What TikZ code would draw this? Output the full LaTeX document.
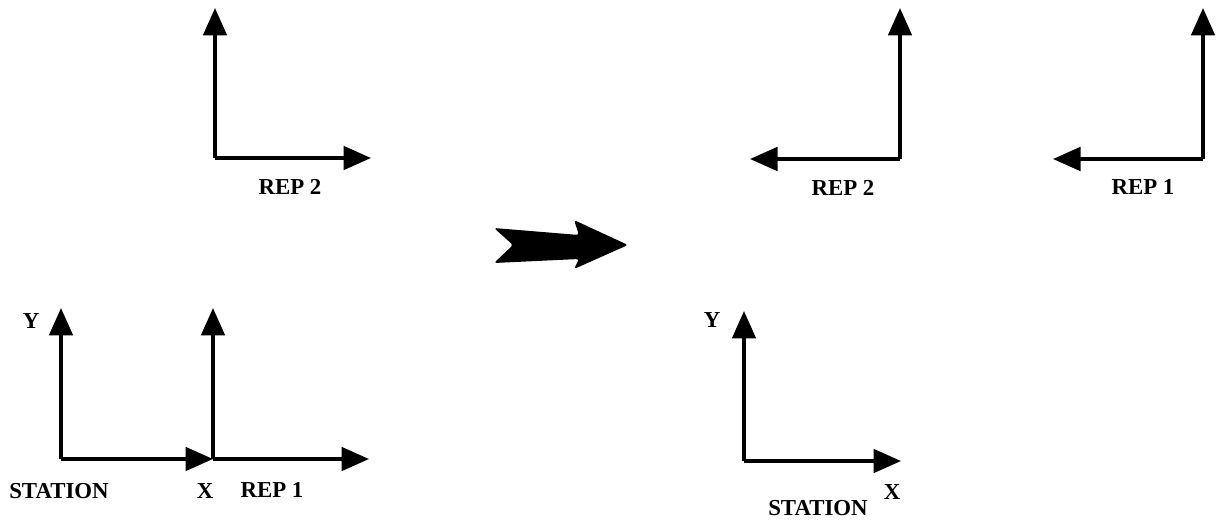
\documentclass[tikz,border=0pt]{standalone}
\usepackage{fontspec}
\setmainfont{Liberation Serif}
\usetikzlibrary{arrows.meta, positioning}

\tikzset{
  axis/.style={line width=2pt, -{Triangle[length=0.55cm, width=0.47cm]}},
  lbl/.style={font=\bfseries\fontsize{13}{15}\selectfont, inner sep=0pt}
}

\begin{document}
\begin{tikzpicture}[x=0.02cm, y=-0.02cm]
\useasboundingbox (0,0) rectangle (1221,521);

% before: station frame with rep 1 at the end of its x axis, rep 2 above
\coordinate (st) at (61,459);
\coordinate (stY) at (61,308);
\coordinate (stX) at (213,459);
\coordinate (r1) at (213,459);
\coordinate (r1Y) at (213,308);
\coordinate (r1X) at (369,459);
\coordinate (r2) at (215,158);
\coordinate (r2Y) at (215,8);
\coordinate (r2X) at (371,158);

\draw[axis] (st) -- (stY);
\draw[axis] (st) -- (stX);
\draw[axis] (r1) -- (r1Y);
\draw[axis] (r1) -- (r1X);
\draw[axis] (r2) -- (r2Y);
\draw[axis] (r2) -- (r2X);

\node (yA) [lbl] at (31,321) {Y};
\node (stA) [lbl] at (59,491) {STATION};
\node (xA) [lbl] at (205,491) {X};
\node (r1A) [lbl] at (272,490) {REP 1};
\node (r2A) [lbl] at (290,187) {REP 2};

% transition arrow
\fill[rounded corners=1.5pt] (494,228) -- (579,235) -- (574,220) -- (628,245)
  -- (574,269) -- (579,259) -- (494,263) -- (513,245) -- cycle;

% after: both reps with mirrored x axes, station frame below
\coordinate (q2) at (900,159);
\coordinate (q2Y) at (900,8);
\coordinate (q2X) at (750,159);
\coordinate (q1) at (1203,159);
\coordinate (q1Y) at (1203,8);
\coordinate (q1X) at (1053,159);
\coordinate (sb) at (744,461);
\coordinate (sbY) at (744,311);
\coordinate (sbX) at (901,461);

\draw[axis] (q2) -- (q2Y);
\draw[axis] (q2) -- (q2X);
\draw[axis] (q1) -- (q1Y);
\draw[axis] (q1) -- (q1X);
\draw[axis] (sb) -- (sbY);
\draw[axis] (sb) -- (sbX);

\node (q2A) [lbl] at (843,188) {REP 2};
\node (q1A) [lbl] at (1143,187) {REP 1};
\node (yB) [lbl] at (712,320) {Y};
\node (xB) [lbl] at (892,492) {X};
\node (sbA) [lbl] at (818,508) {STATION};
\end{tikzpicture}
\end{document}
